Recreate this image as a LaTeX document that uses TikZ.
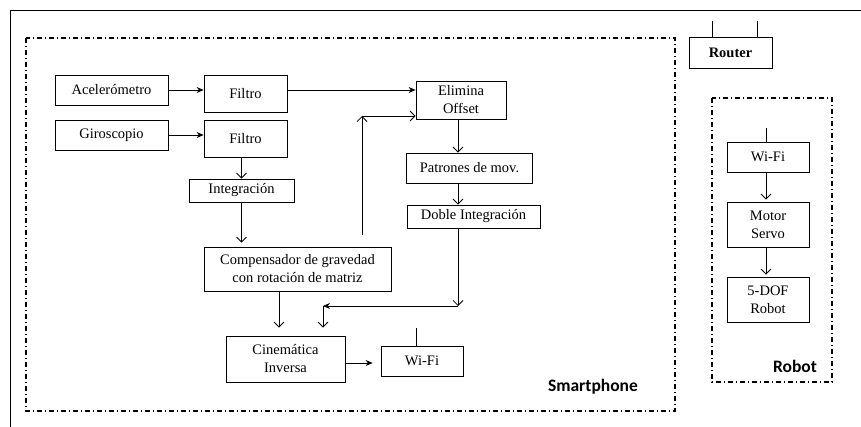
\documentclass[tikz,border=0pt]{standalone}
\usepackage{fontspec}
\setmainfont{Liberation Serif}
\newfontfamily\etiqueta{Carlito}
\usetikzlibrary{arrows.meta}
\tikzset{
  bloque/.style={draw, line width=0.8pt, inner sep=0pt, align=center,
    font=\fontsize{14.5}{18}\selectfont},
  llena/.style={-{Stealth[length=7pt,width=6pt]}, line width=0.8pt},
  abierta/.style={-{Straight Barb[length=5pt,width=10pt]}, line width=0.8pt},
  zona/.style={line width=1.2pt, dash pattern=on 5pt off 3pt on 1pt off 3pt},
  nombre/.style={font=\etiqueta\bfseries\fontsize{17.5}{20}\selectfont},
}

\begin{document}
\begin{tikzpicture}[x=1pt,y=-1pt]
  \useasboundingbox (0,0) rectangle (861,427);
  \draw[line width=0.8pt] (10,427) -- (10,10) -- (861,10);

  % zone del disegno
  \draw[zona] (26,38) rectangle (675,411);
  \draw[zona] (712,98) rectangle (832,382);
  \node[nombre] (smart) at (593,387) {Smartphone};
  \node[nombre] (robot) at (795,366) {Robot};

  % smartphone
  \node[bloque, minimum width=113pt, minimum height=30pt] (acel) at (111.5,90) {Acelerómetro};
  \node[bloque, minimum width=113pt, minimum height=30pt] (giro) at (111.5,135) {Giroscopio};
  \node[bloque, minimum width=83pt, minimum height=37pt] (filtroA) at (245.5,93.5) {Filtro};
  \node[bloque, minimum width=83pt, minimum height=37pt] (filtroB) at (245.5,138.5) {Filtro};
  \node[bloque, minimum width=105pt, minimum height=23pt] (integ) at (241.5,190.5) {Integración};
  \node[bloque, minimum width=90pt, minimum height=38pt] (elim) at (461,100) {Elimina\\Offset};
  \node[bloque, minimum width=126pt, minimum height=30pt] (patr) at (469.5,168) {Patrones de mov.};
  \node[bloque, minimum width=133pt, minimum height=23pt] (doble) at (473.5,216.5) {Doble Integración};
  \node[bloque, minimum width=187pt, minimum height=44pt] (compens) at (297.5,269) {Compensador de gravedad\\con rotación de matriz};
  \node[bloque, minimum width=119pt, minimum height=46pt] (cinem) at (285.5,359) {Cinemática\\Inversa};
  \node[bloque, minimum width=82pt, minimum height=30pt] (wifiA) at (422,361) {Wi-Fi};

  % router e robot
  \node[bloque, minimum width=83pt, minimum height=31pt, font=\bfseries\fontsize{14.5}{18}\selectfont] (router) at (730.5,52.5) {Router};
  \node[bloque, minimum width=82pt, minimum height=30pt] (wifiB) at (768,157) {Wi-Fi};
  \node[bloque, minimum width=82pt, minimum height=45pt] (motor) at (768,224.5) {Motor\\Servo};
  \node[bloque, minimum width=82pt, minimum height=45pt] (dof) at (768,299.5) {5-DOF\\Robot};

  % antenne
  \draw[line width=0.8pt] ([xshift=-6pt]wifiA.north) -- ++(0,-18);
  \draw[line width=0.8pt] ([xshift=-18.5pt]router.north) -- ++(0,-16);
  \draw[line width=0.8pt] ([xshift=26.5pt]router.north) -- ++(0,-16);
  \draw[line width=0.8pt] ([xshift=-2pt]wifiB.north) -- ++(0,-14);

  \coordinate (esq) at (362,116);
  \coordinate (eje) at (458,0);
  \coordinate (baja) at (458,306);
  \coordinate (union) at (323,306);
  \coordinate (ejeC) at (279,300);

  % frecce
  \draw[llena] (acel.east) -- (acel.east -| filtroA.west);
  \draw[llena] (giro.east) -- (giro.east -| filtroB.west);
  \draw[llena] (filtroA.east |- acel) -- (elim.west |- acel);
  \draw[abierta] ([yshift=12pt]compens.north -| esq) -- (esq);
  \draw[abierta] (esq) -- (esq -| elim.west);
  \draw[abierta] (filtroB.south -| integ) -- (integ.north);
  \draw[abierta] (integ.south) -- ([yshift=4pt]compens.north -| integ.south);
  \draw[abierta] (elim.south -| eje) -- (patr.north -| eje);
  \draw[abierta] (patr.south -| eje) -- (doble.north -| eje);
  \draw[abierta] (doble.south -| eje) -- (baja);
  \draw[llena] (baja) -- (union);
  \draw[abierta] (union) -- ([yshift=8pt]cinem.north -| union);
  \draw[abierta] (compens.south -| ejeC) -- ([yshift=8pt]cinem.north -| ejeC);
  \draw[llena] ([yshift=-4pt]cinem.east) -- ([xshift=-8pt,yshift=-4pt]cinem.east -| wifiA.west);
  \draw[abierta] ([xshift=-2pt]wifiB.south) -- ([xshift=-2pt,yshift=2pt]motor.north);
  \draw[abierta] ([xshift=-2pt]motor.south) -- ([xshift=-2pt,yshift=2pt]dof.north);
\end{tikzpicture}
\end{document}
